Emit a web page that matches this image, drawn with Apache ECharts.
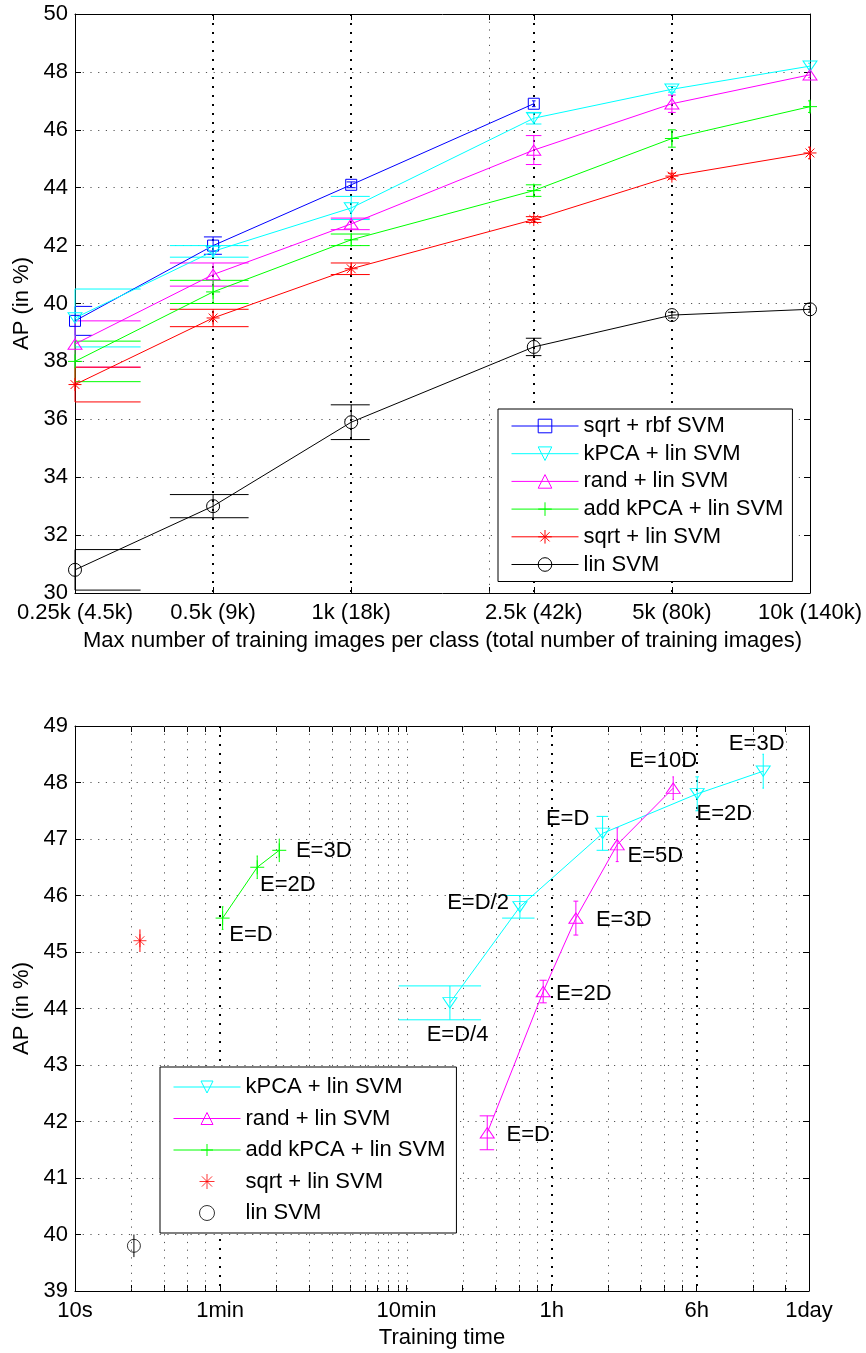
<!DOCTYPE html>
<html>
<head>
<meta charset="utf-8">
<script src="https://cdn.jsdelivr.net/npm/echarts@6/dist/echarts.min.js"></script>
<style>
  html, body { margin: 0; padding: 0; background: #fff; }
  #chart { width: 866px; height: 1353px; }
</style>
</head>
<body>
<div id="chart"></div>
<script>
// ---- top plot: AP vs max number of training images per class (in k) ----
const sizeTicks = [0.25, 0.5, 1, 2.5, 5, 10];
const sizeTickLabels = ['0.25k (4.5k)', '0.5k (9k)', '1k (18k)', '2.5k (42k)', '5k (80k)', '10k (140k)'];
const sizeBoldGrid = [0.5, 1, 2.5, 5];
const sizeLightGrid = [2];

const topNames = ['sqrt + rbf SVM', 'kPCA + lin SVM', 'rand + lin SVM', 'add kPCA + lin SVM', 'sqrt + lin SVM', 'lin SVM'];
const rbfSizes = [0.25, 0.5, 1, 2.5];
const rbfAP = [39.4, 42.0, 44.1, 46.9];
const rbfErr = [0.5, 0.3, 0.1, 0.1];
const kpcaAP = [39.5, 41.8, 43.3, 46.4, 47.4, 48.2];
const kpcaErr = [1.0, 0.2, 0.4, 0.2, 0.1, 0.1];
const randAP = [38.6, 41.0, 42.75, 45.3, 46.9, 47.9];
const randErr = [0.8, 0.4, 0.2, 0.5, 0.3, 0.1];
const addAP = [38.0, 40.4, 42.2, 43.9, 45.7, 46.8];
const addErr = [0.7, 0.4, 0.2, 0.2, 0.3, 0.2];
const sqrtAP = [37.2, 39.5, 41.2, 42.9, 44.4, 45.2];
const sqrtErr = [0.6, 0.3, 0.2, 0.1, 0.1, 0.2];
const linAP = [30.8, 33.0, 35.9, 38.5, 39.6, 39.8];
const linErr = [0.7, 0.4, 0.6, 0.3, 0.1, 0.1];

// ---- bottom plot: AP vs training time (seconds) ----
const timeTicks = [10, 60, 600, 3600, 21600, 86400];
const timeTickLabels = ['10s', '1min', '10min', '1h', '6h', '1day'];
const timeBoldGrid = [60, 3600, 21600];
const timeLightGrid = [20, 30, 40, 50, 120, 180, 240, 300, 360, 420, 480, 540, 600,
  1200, 1800, 2400, 3000, 7200, 10800, 14400, 18000, 43200, 64800];

const bottomNames = ['kPCA + lin SVM', 'rand + lin SVM', 'add kPCA + lin SVM', 'sqrt + lin SVM', 'lin SVM'];
const kpcaTime = [1025, 2433, 6753, 21730, 49090];
const kpcaTimeAP = [44.1, 45.8, 47.1, 47.8, 48.2];
const kpcaTimeErr = [0.3, 0.2, 0.3, 0.3, 0.3];
const kpcaLabels = ['E=D/4', 'E=D/2', 'E=D', 'E=2D', 'E=3D'];
const kpcaLabelTime = [769, 991, 3354, 21560, 32120];
const kpcaLabelAP = [43.53, 45.87, 47.36, 47.45, 48.69];

const randTime = [1625, 3243, 4856, 8090, 16150];
const randTimeAP = [41.8, 44.3, 45.6, 46.9, 47.9];
const randTimeErr = [0.3, 0.2, 0.3, 0.3, 0.2];
const randLabels = ['E=D', 'E=2D', 'E=3D', 'E=5D', 'E=10D'];
const randLabelTime = [2064, 3794, 6217, 9194, 9377];
const randLabelAP = [41.76, 44.26, 45.57, 46.70, 48.39];

const addTime = [61.9, 94.9, 124.6];
const addTimeAP = [45.6, 46.5, 46.8];
const addTimeErr = [0.2, 0.2, 0.2];
const addLabels = ['E=D', 'E=2D', 'E=3D'];
const addLabelTime = [67.2, 98.2, 153.1];
const addLabelAP = [45.31, 46.18, 46.79];

const sqrtTime = [22.3];
const sqrtTimeAP = [45.2];
const sqrtTimeErr = [0.2];
const linTime = [20.7];
const linTimeAP = [39.8];
const linTimeErr = [0.2];

const FONT = '"Liberation Sans", Arial, Helvetica, sans-serif';
const FS = 22;
const COLORS = { rbf: '#0000ff', kpca: '#00ffff', rand: '#ff00ff', add: '#00ff00', sqrt: '#ff0000', lin: '#000000' };
const SYM = {
  square: 'path://M0 0 L10 0 L10 10 L0 10 Z',
  down: 'path://M0 0 L10 0 L5 8.66 Z',
  up: 'path://M5 0 L10 8.66 L0 8.66 Z',
  plus: 'path://M5 0 L5 10 M0 5 L10 5',
  star: 'path://M5 0 L5 10 M0 5 L10 5 M1.6 1.6 L8.4 8.4 M8.4 1.6 L1.6 8.4',
  circle: 'circle'
};
const SIZE = { square: 11, down: [14, 12], up: [14, 12], plus: 14, star: 13, circle: 13 };
const BOTTOM_PREFIX = 'time: ';

function pairs(xs, ys) { return xs.map((x, i) => [x, ys[i]]); }

function lineSeries(name, xs, ys, color, sym, axis) {
  return {
    type: 'line', name, xAxisIndex: axis, yAxisIndex: axis, z: 3,
    data: pairs(xs, ys),
    symbol: SYM[sym], symbolSize: SIZE[sym], symbolKeepAspect: true,
    showAllSymbol: true, animation: false, silent: true,
    lineStyle: { color, width: 1 },
    itemStyle: { color: 'transparent', borderColor: color, borderWidth: 1 }
  };
}

function pointSeries(name, xs, ys, color, sym, axis) {
  return {
    type: 'scatter', name, xAxisIndex: axis, yAxisIndex: axis, z: 3,
    data: pairs(xs, ys),
    symbol: SYM[sym], symbolSize: SIZE[sym], symbolKeepAspect: true,
    animation: false, silent: true,
    itemStyle: { color: 'transparent', borderColor: color, borderWidth: 1 }
  };
}

// MATLAB-style error bars: caps are +-(max(x)-min(x))/100 wide in data units
function errorSeries(xs, ys, errs, color, axis) {
  const tee = (Math.max(...xs) - Math.min(...xs)) / 100;
  return {
    type: 'custom', xAxisIndex: axis, yAxisIndex: axis, z: 2, silent: true, animation: false,
    data: xs.map((x, i) => [x, ys[i], errs[i]]),
    encode: { x: 0, y: 1 },
    renderItem(params, api) {
      const x = api.value(0), y = api.value(1), e = api.value(2);
      const cs = params.coordSys;
      const lo = api.coord([x, y - e]), hi = api.coord([x, y + e]);
      const st = { stroke: color, lineWidth: 1 };
      const kids = [{ type: 'line', shape: { x1: lo[0], y1: lo[1], x2: hi[0], y2: hi[1] }, style: st }];
      if (tee > 0) {
        const clamp = v => Math.max(cs.x, Math.min(cs.x + cs.width, v));
        const l = clamp(api.coord([x - tee, y])[0]);
        const r = clamp(api.coord([x + tee, y])[0]);
        kids.push({ type: 'line', shape: { x1: l, y1: lo[1], x2: r, y2: lo[1] }, style: st });
        kids.push({ type: 'line', shape: { x1: l, y1: hi[1], x2: r, y2: hi[1] }, style: st });
      }
      return { type: 'group', children: kids };
    }
  };
}

// vertical dotted grid lines at chosen x values
function vGridSeries(values, yMin, bold, axis) {
  return {
    type: 'custom', xAxisIndex: axis, yAxisIndex: axis, z: 1, silent: true, animation: false,
    data: values.map(v => [v, yMin]),
    encode: { x: 0, y: 1 },
    renderItem(params, api) {
      const cs = params.coordSys;
      const px = Math.round(api.coord([api.value(0), api.value(1)])[0]) + (bold ? 0 : 0.5);
      return {
        type: 'line',
        shape: { x1: px, y1: cs.y, x2: px, y2: cs.y + cs.height },
        style: bold
          ? { stroke: '#000', lineWidth: 2, lineDash: [2, 7] }
          : { stroke: '#555', lineWidth: 1, lineDash: [1.2, 6.5] }
      };
    }
  };
}

function textSeries(xs, ys, texts, axis) {
  return {
    type: 'custom', xAxisIndex: axis, yAxisIndex: axis, z: 4, silent: true, animation: false,
    data: pairs(xs, ys),
    encode: { x: 0, y: 1 },
    renderItem(params, api) {
      const p = api.coord([api.value(0), api.value(1)]);
      return {
        type: 'text', x: p[0], y: p[1],
        style: { text: texts[params.dataIndex], fill: '#000', fontSize: FS, fontFamily: FONT, align: 'left', verticalAlign: 'middle' }
      };
    }
  };
}

function labelFor(ticks, labels) {
  return v => {
    const i = ticks.findIndex(t => Math.abs(t - v) < 1e-6 * t);
    return i >= 0 ? labels[i] : '';
  };
}

const axisLineStyle = { show: true, onZero: false, lineStyle: { color: '#000', width: 1 } };
const labelStyle = { color: '#000', fontSize: FS, fontFamily: FONT };

function xAxes(gridIndex, min, max, ticks, labels, tickVals, name, nameGap) {
  return [
    {
      type: 'log', logBase: 10, gridIndex, position: 'bottom', min, max,
      axisLine: axisLineStyle,
      axisTick: { show: true, inside: true, length: 6, customValues: tickVals, lineStyle: { color: '#000' } },
      axisLabel: Object.assign({ customValues: ticks, formatter: labelFor(ticks, labels), margin: 9,
        showMinLabel: true, showMaxLabel: true, hideOverlap: false }, labelStyle),
      splitLine: { show: false }, minorTick: { show: false }, minorSplitLine: { show: false },
      name, nameLocation: 'middle', nameGap, nameTextStyle: labelStyle
    },
    {
      type: 'log', logBase: 10, gridIndex, position: 'top', min, max,
      axisLine: axisLineStyle,
      axisTick: { show: true, inside: true, length: 6, customValues: tickVals, lineStyle: { color: '#000' } },
      axisLabel: { show: false }, splitLine: { show: false }
    }
  ];
}

function yAxes(gridIndex, min, max, interval) {
  return [
    {
      type: 'value', gridIndex, position: 'left', min, max, interval,
      axisLine: axisLineStyle,
      axisTick: { show: true, inside: true, length: 6, lineStyle: { color: '#000' } },
      axisLabel: Object.assign({ margin: 7, showMinLabel: true, showMaxLabel: true }, labelStyle),
      splitLine: { show: true, lineStyle: { color: '#555', width: 1, type: [1.2, 6.5] } },
      name: 'AP (in %)', nameLocation: 'middle', nameGap: 42, nameTextStyle: labelStyle
    },
    {
      type: 'value', gridIndex, position: 'right', min, max, interval,
      axisLine: axisLineStyle,
      axisTick: { show: true, inside: true, length: 6, lineStyle: { color: '#000' } },
      axisLabel: { show: false }, splitLine: { show: false }
    }
  ];
}

const topX = xAxes(0, 0.25, 10, sizeTicks, sizeTickLabels, [0.5, 1, 2, 2.5, 5],
  'Max number of training images per class (total number of training images)', 37);
const botX = xAxes(1, 10, 86400, timeTicks, timeTickLabels, timeTicks.concat(timeLightGrid), 'Training time', 36);

const legendBase = {
  orient: 'vertical', itemWidth: 67, itemHeight: 17, selectedMode: false,
  borderColor: '#000', borderWidth: 1, backgroundColor: '#fff', borderRadius: 0,
  textStyle: { color: '#000', fontSize: FS, fontFamily: FONT, lineHeight: 22 },
  itemStyle: { color: 'transparent', borderWidth: 1 },
  lineStyle: { width: 1 }
};

const B = BOTTOM_PREFIX;
const option = {
  backgroundColor: '#fff',
  animation: false,
  grid: [
    { left: 75, top: 14, width: 735, height: 579, outerBoundsMode: 'none', containLabel: false },
    { left: 75, top: 726, width: 734, height: 565, outerBoundsMode: 'none', containLabel: false }
  ],
  xAxis: [topX[0], topX[1], botX[0], botX[1]],
  yAxis: [].concat(yAxes(0, 30, 50, 2), yAxes(1, 39, 49, 1)),
  legend: [
    Object.assign({}, legendBase, {
      left: 498, top: 409, itemGap: 5.7, padding: [6, 9, 6, 13], data: topNames
    }),
    Object.assign({}, legendBase, {
      left: 160, top: 1067, itemGap: 9.5, padding: [9, 11, 9, 13], itemHeight: 15,
      data: bottomNames.map(n => B + n),
      formatter: n => n.replace(B, '')
    })
  ],
  series: [
    // top plot (xAxis 0 / yAxis 0)
    vGridSeries(sizeLightGrid, 30, false, 0),
    vGridSeries(sizeBoldGrid, 30, true, 0),
    lineSeries(topNames[0], rbfSizes, rbfAP, COLORS.rbf, 'square', 0),
    errorSeries(rbfSizes, rbfAP, rbfErr, COLORS.rbf, 0),
    lineSeries(topNames[1], sizeTicks, kpcaAP, COLORS.kpca, 'down', 0),
    errorSeries(sizeTicks, kpcaAP, kpcaErr, COLORS.kpca, 0),
    lineSeries(topNames[2], sizeTicks, randAP, COLORS.rand, 'up', 0),
    errorSeries(sizeTicks, randAP, randErr, COLORS.rand, 0),
    lineSeries(topNames[3], sizeTicks, addAP, COLORS.add, 'plus', 0),
    errorSeries(sizeTicks, addAP, addErr, COLORS.add, 0),
    lineSeries(topNames[4], sizeTicks, sqrtAP, COLORS.sqrt, 'star', 0),
    errorSeries(sizeTicks, sqrtAP, sqrtErr, COLORS.sqrt, 0),
    lineSeries(topNames[5], sizeTicks, linAP, COLORS.lin, 'circle', 0),
    errorSeries(sizeTicks, linAP, linErr, COLORS.lin, 0),

    // bottom plot (xAxis 2 / yAxis 2)
    vGridSeries(timeLightGrid, 39, false, 2),
    vGridSeries(timeBoldGrid, 39, true, 2),
    lineSeries(B + bottomNames[0], kpcaTime, kpcaTimeAP, COLORS.kpca, 'down', 2),
    errorSeries(kpcaTime, kpcaTimeAP, kpcaTimeErr, COLORS.kpca, 2),
    lineSeries(B + bottomNames[1], randTime, randTimeAP, COLORS.rand, 'up', 2),
    errorSeries(randTime, randTimeAP, randTimeErr, COLORS.rand, 2),
    lineSeries(B + bottomNames[2], addTime, addTimeAP, COLORS.add, 'plus', 2),
    errorSeries(addTime, addTimeAP, addTimeErr, COLORS.add, 2),
    pointSeries(B + bottomNames[3], sqrtTime, sqrtTimeAP, COLORS.sqrt, 'star', 2),
    errorSeries(sqrtTime, sqrtTimeAP, sqrtTimeErr, COLORS.sqrt, 2),
    pointSeries(B + bottomNames[4], linTime, linTimeAP, COLORS.lin, 'circle', 2),
    errorSeries(linTime, linTimeAP, linTimeErr, COLORS.lin, 2),
    textSeries(kpcaLabelTime, kpcaLabelAP, kpcaLabels, 2),
    textSeries(randLabelTime, randLabelAP, randLabels, 2),
    textSeries(addLabelTime, addLabelAP, addLabels, 2)
  ]
};

const chart = echarts.init(document.getElementById('chart'), null, { renderer: 'canvas' });
chart.setOption(option);
</script>
</body>
</html>
